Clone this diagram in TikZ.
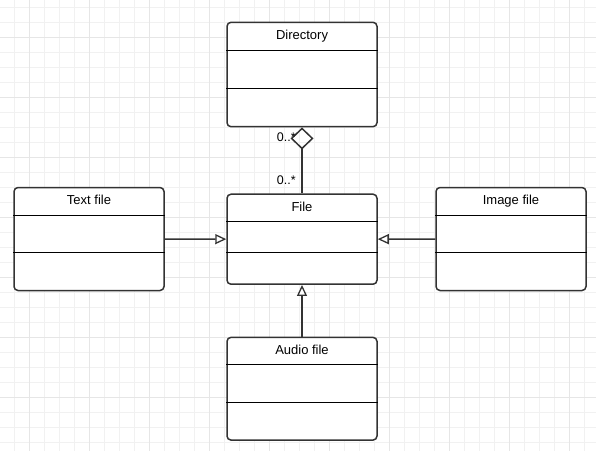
\documentclass[tikz,border=0pt]{standalone}
\usepackage{fontspec}
\setmainfont{Liberation Sans}
\usetikzlibrary{arrows.meta}
\definecolor{gridthin}{HTML}{F1F1F1}
\definecolor{gridthick}{HTML}{E6E6E6}
\definecolor{edge}{HTML}{333333}
\begin{document}
\begin{tikzpicture}[x=1pt,y=-1pt,
  umlbox/.style={draw=edge,line width=1.5pt,rounded corners=4pt,fill=white,minimum width=150pt,inner sep=0pt},
  title/.style={font=\fontsize{13}{15}\selectfont,text=black,anchor=base,inner sep=0pt},
  divider/.style={line width=1.2pt,black},
  conn/.style={line width=1.5pt,draw=edge},
  gen/.style={-{Triangle[open,length=11pt,width=10pt,line width=1.3pt,fill=white]}},
  mult/.style={font=\fontsize{12.5}{14}\selectfont,anchor=base west,inner sep=0pt,text=black}]
\useasboundingbox (0,0) rectangle (596,451);
\fill[white] (0,0) rectangle (596,451);
% grid
\foreach \x in {-0.5,14.5,...,600} \draw[gridthin,line width=1pt] (\x,0) -- (\x,451);
\foreach \y in {7.5,22.5,...,455} \draw[gridthin,line width=1pt] (0,\y) -- (596,\y);
\foreach \x in {29.5,89.5,...,600} \draw[gridthick,line width=1.2pt] (\x,0) -- (\x,451);
\foreach \y in {37.8,97.8,...,455} \draw[gridthick,line width=1.2pt] (0,\y) -- (596,\y);
% boxes
\node[umlbox,minimum height=104.4pt] (dir) at (302,74.5) {};
\node[umlbox,minimum height=90pt] (file) at (302,239.2) {};
\node[umlbox,minimum height=103pt] (text) at (89,239) {};
\node[umlbox,minimum height=103pt] (image) at (511,239) {};
\node[umlbox,minimum height=102.7pt] (audio) at (302,388.7) {};
% dividers
\draw[divider] ([yshift=-28.6pt]dir.north west) -- ([yshift=-28.6pt]dir.north east);
\draw[divider] ([yshift=-67pt]dir.north west) -- ([yshift=-67pt]dir.north east);
\draw[divider] ([yshift=-28.4pt]file.north west) -- ([yshift=-28.4pt]file.north east);
\draw[divider] ([yshift=-59.4pt]file.north west) -- ([yshift=-59.4pt]file.north east);
\draw[divider] ([yshift=-28.4pt]text.north west) -- ([yshift=-28.4pt]text.north east);
\draw[divider] ([yshift=-66pt]text.north west) -- ([yshift=-66pt]text.north east);
\draw[divider] ([yshift=-28.4pt]image.north west) -- ([yshift=-28.4pt]image.north east);
\draw[divider] ([yshift=-66pt]image.north west) -- ([yshift=-66pt]image.north east);
\draw[divider] ([yshift=-28pt]audio.north west) -- ([yshift=-28pt]audio.north east);
\draw[divider] ([yshift=-65.7pt]audio.north west) -- ([yshift=-65.7pt]audio.north east);
% titles
\node[title] (dirT) at ([yshift=-18pt]dir.north) {Directory};
\node[title] (fileT) at ([yshift=-18pt]file.north) {File};
\node[title] (textT) at ([yshift=-18pt]text.north) {Text file};
\node[title] (imageT) at ([yshift=-18pt]image.north) {Image file};
\node[title] (audioT) at ([yshift=-17.5pt]audio.north) {Audio file};
% connectors
\draw[conn,gen] (text) -- (file);
\draw[conn,gen] (image) -- (file);
\draw[conn,gen] (audio) -- (file);
\draw[conn,{Diamond[open,length=22pt,width=23pt,line width=1.5pt]}-] (dir) -- (file);
% multiplicities
\node[mult] (m1) at (276.7,141) {0..*};
\node[mult] (m2) at (276.7,184) {0..*};
\end{tikzpicture}
\end{document}
